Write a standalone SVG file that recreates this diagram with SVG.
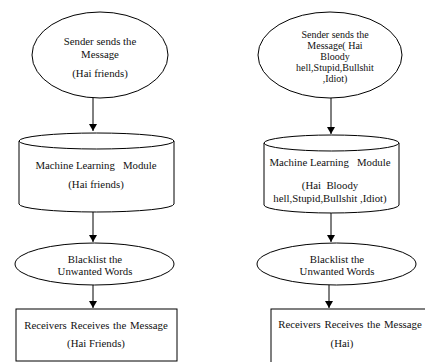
<svg xmlns="http://www.w3.org/2000/svg" width="425" height="362" viewBox="0 0 425 362">
<style>
.s{fill:#fff;stroke:#000;stroke-width:1}
.t{font-family:"Liberation Serif","Times New Roman",serif;font-size:10.8px;fill:#111;text-anchor:middle}
.tt{font-size:10px}
.c{stroke:#000;stroke-width:1;fill:none}
</style>
<defs>
<marker id="ah" markerWidth="8" markerHeight="8" refX="7" refY="4" orient="auto" markerUnits="userSpaceOnUse">
<path d="M0,0 L7,4 L0,8 Z" fill="#000"/>
</marker>
</defs>
<rect width="425" height="362" fill="#fff"/>
<g id="connectors">
<line class="c" x1="93" y1="98" x2="93" y2="131" marker-end="url(#ah)"/>
<line class="c" x1="93" y1="212" x2="93" y2="242" marker-end="url(#ah)"/>
<line class="c" x1="93" y1="285" x2="93" y2="308" marker-end="url(#ah)"/>
<line class="c" x1="331" y1="98" x2="331" y2="134" marker-end="url(#ah)"/>
<line class="c" x1="331" y1="213" x2="331" y2="242" marker-end="url(#ah)"/>
<line class="c" x1="329" y1="285" x2="329" y2="308" marker-end="url(#ah)"/>
</g>
<g id="sender-left">
<ellipse class="s" cx="100" cy="55" rx="68" ry="43"/>
<text class="t" x="100" y="45">Sender sends the</text>
<text class="t" x="100" y="58">Message</text>
<text class="t" x="100" y="77">(Hai friends)</text>
</g>
<g id="ml-left">
<path class="s" d="M19,141 L19,204 A77.5,8 0 0 0 174,204 L174,141"/>
<ellipse class="s" cx="96.5" cy="141" rx="77.5" ry="8"/>
<text class="t" x="96" y="169" xml:space="preserve">Machine Learning   Module</text>
<text class="t" x="96" y="188">(Hai friends)</text>
</g>
<g id="blacklist-left">
<ellipse class="s" cx="94.5" cy="264" rx="79.5" ry="21"/>
<text class="t" x="95" y="263">Blacklist the</text>
<text class="t" x="95" y="275">Unwanted Words</text>
</g>
<g id="receiver-left">
<rect class="s" x="16" y="309" width="161" height="52"/>
<text class="t" x="96" y="329" word-spacing="1">Receivers Receives the Message</text>
<text class="t" x="96" y="347">(Hai Friends)</text>
</g>
<g id="sender-right">
<ellipse class="s" cx="330" cy="55" rx="72" ry="43"/>
<text class="t tt" x="335" y="37.6">Sender sends the</text>
<text class="t tt" x="335" y="48.8">Message( Hai</text>
<text class="t tt" x="335" y="60">Bloody</text>
<text class="t tt" x="335" y="71.2">hell,Stupid,Bullshit</text>
<text class="t tt" x="335" y="82.4">,Idiot)</text>
</g>
<g id="ml-right">
<path class="s" d="M264,143 L264,205 A67.5,8 0 0 0 399,205 L399,143"/>
<ellipse class="s" cx="331.5" cy="143" rx="67.5" ry="8"/>
<text class="t" x="330" y="166" xml:space="preserve">Machine Learning   Module</text>
<text class="t" x="330" y="189" xml:space="preserve">(Hai  Bloody</text>
<text class="t" x="330" y="202">hell,Stupid,Bullshit ,Idiot)</text>
</g>
<g id="blacklist-right">
<ellipse class="s" cx="336.5" cy="264" rx="79.5" ry="21"/>
<text class="t" x="337" y="263">Blacklist the</text>
<text class="t" x="337" y="275">Unwanted Words</text>
</g>
<g id="receiver-right">
<rect class="s" x="271" y="309" width="170" height="70"/>
<text class="t" x="350" y="328" word-spacing="1">Receivers Receives the Message</text>
<text class="t" x="342" y="347">(Hai)</text>
</g>
</svg>
